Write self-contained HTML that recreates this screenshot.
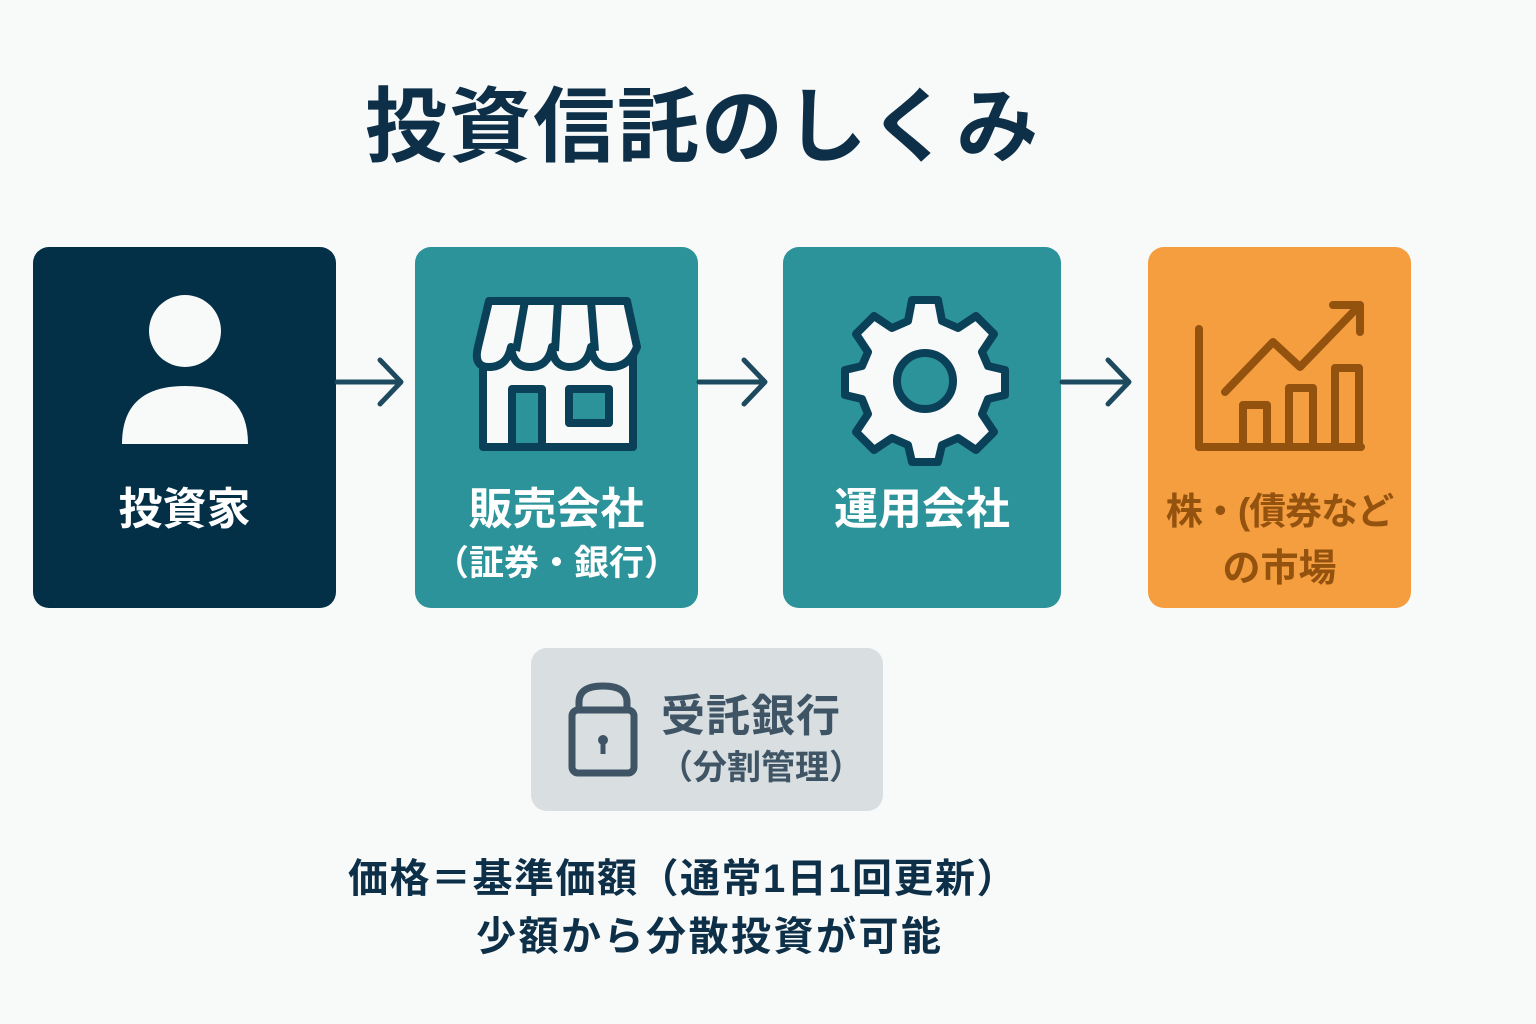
<!DOCTYPE html>
<html><head><meta charset="utf-8"><style>
body{margin:0;width:1536px;height:1024px;background:#f8f9f9;position:relative;overflow:hidden;font-family:"Liberation Sans","Noto Sans CJK JP",sans-serif;font-weight:bold}
.b{position:absolute;border-radius:16px}
.t{position:absolute;text-align:center;width:100%;left:0}
</style></head><body>
<div style="position:absolute;left:365px;top:78px;font-size:82px;color:#0d2f48;letter-spacing:2px;line-height:100px">投資信託のしくみ</div>

<div class="b" style="left:33px;top:247px;width:303px;height:361px;background:#032f47">
<svg width="303" height="361" style="position:absolute;left:0;top:0"><circle cx="152" cy="84" r="36" fill="#f8f9f9"/><path d="M89 197 Q89 139 152 139 Q215 139 215 197 Z" fill="#f8f9f9"/></svg>
<div class="t" style="top:226px;font-size:44px;color:#fff">投資家</div></div>

<div class="b" style="left:415px;top:247px;width:283px;height:361px;background:#2b9399">
<svg width="283" height="361" style="position:absolute;left:0;top:0" fill="none" stroke="#0b4158" stroke-width="8" stroke-linejoin="round">
<rect x="68" y="100" width="150" height="100" fill="#f8f9f9"/>
<path d="M74 54 H212 L222 100 Q214 120 196 120 Q178 120 176 100 Q172 120 155 120 Q138 120 137 100 Q133 120 115 120 Q98 120 96 100 Q92 120 74 120 Q58 120 63 100 Z" fill="#f8f9f9"/>
<path d="M110 54 L101 104 M143 54 L140 104 M176 54 L180 104"/>
<rect x="97" y="142" width="30" height="58" fill="#2b9399"/><rect x="154" y="142" width="40" height="34" fill="#2b9399"/></svg>
<div class="t" style="top:226px;font-size:44px;color:#fff">販売会社</div>
<div class="t" style="top:288px;font-size:35px;color:#fff">（証券・銀行）</div></div>

<div class="b" style="left:783px;top:247px;width:278px;height:361px;background:#2b9399">
<svg width="278" height="361" style="position:absolute;left:0;top:0">
<g transform="translate(142,130)" fill="#f8f9f9" stroke="#0b4158" stroke-width="8" stroke-linejoin="round">
<path d="M-13 -77 L13 -77 L17 -56 L33 -49 L51 -61 L69 -43 L57 -25 L63 -11 L80 -7 L80 18 L63 22 L57 37 L69 55 L51 73 L33 61 L17 68 L13 85 L-13 85 L-17 68 L-33 61 L-51 73 L-69 55 L-57 37 L-63 22 L-80 18 L-80 -7 L-63 -11 L-57 -25 L-69 -43 L-51 -61 L-33 -49 L-17 -56 Z"/>
<circle cx="0" cy="4" r="28" fill="#2b9399"/></g></svg>
<div class="t" style="top:226px;font-size:44px;color:#fff">運用会社</div></div>

<div class="b" style="left:1148px;top:247px;width:263px;height:361px;background:#f59e40">
<svg width="263" height="361" style="position:absolute;left:0;top:0" fill="none" stroke="#94520f" stroke-width="8" stroke-linecap="round" stroke-linejoin="round">
<path d="M51 82 V200 H213"/><rect x="95" y="158" width="24" height="42"/><rect x="141" y="141" width="24" height="59"/><rect x="187" y="121" width="24" height="79"/>
<path d="M77 145 L125 95 L152 120 L208 62"/><path d="M185 58 H212 V85"/></svg>
<div class="t" style="top:234px;font-size:37px;color:#94520f;letter-spacing:-1px">株・(債券など</div>
<div class="t" style="top:290px;font-size:38px;color:#94520f">の市場</div></div>

<svg width="1536" height="1024" style="position:absolute;left:0;top:0" fill="none" stroke="#1d4a5e" stroke-width="5" stroke-linecap="round" stroke-linejoin="round">
<path d="M337 382 H400 M380 360 L401 382 L380 404"/>
<path d="M699 382 H764 M744 360 L765 382 L744 404"/>
<path d="M1062 382 H1128 M1108 360 L1129 382 L1108 404"/>
</svg>

<div class="b" style="left:531px;top:648px;width:352px;height:163px;background:#d9dee1">
<svg width="120" height="163" style="position:absolute;left:0;top:0" fill="none" stroke="#3f5566" stroke-width="7">
<path d="M48 62 V54 Q48 38 72 38 Q96 38 96 54 V62" /><rect x="41" y="62" width="62" height="63" rx="6"/>
<circle cx="72" cy="92" r="5" fill="#3f5566" stroke="none"/><path d="M72 95 V106" stroke-width="5"/></svg>
<div style="position:absolute;left:130px;top:32px;font-size:44px;color:#3f5566;letter-spacing:1px">受託銀行</div>
<div style="position:absolute;left:128px;top:92px;font-size:34px;color:#3f5566">（分割管理）</div></div>

<div style="position:absolute;left:348px;top:846px;font-size:40px;color:#0d2f48;letter-spacing:1.5px">価格＝基準価額（通常1日1回更新）</div>
<div style="position:absolute;left:476px;top:904px;font-size:40px;color:#0d2f48;letter-spacing:2.5px">少額から分散投資が可能</div>
</body></html>
